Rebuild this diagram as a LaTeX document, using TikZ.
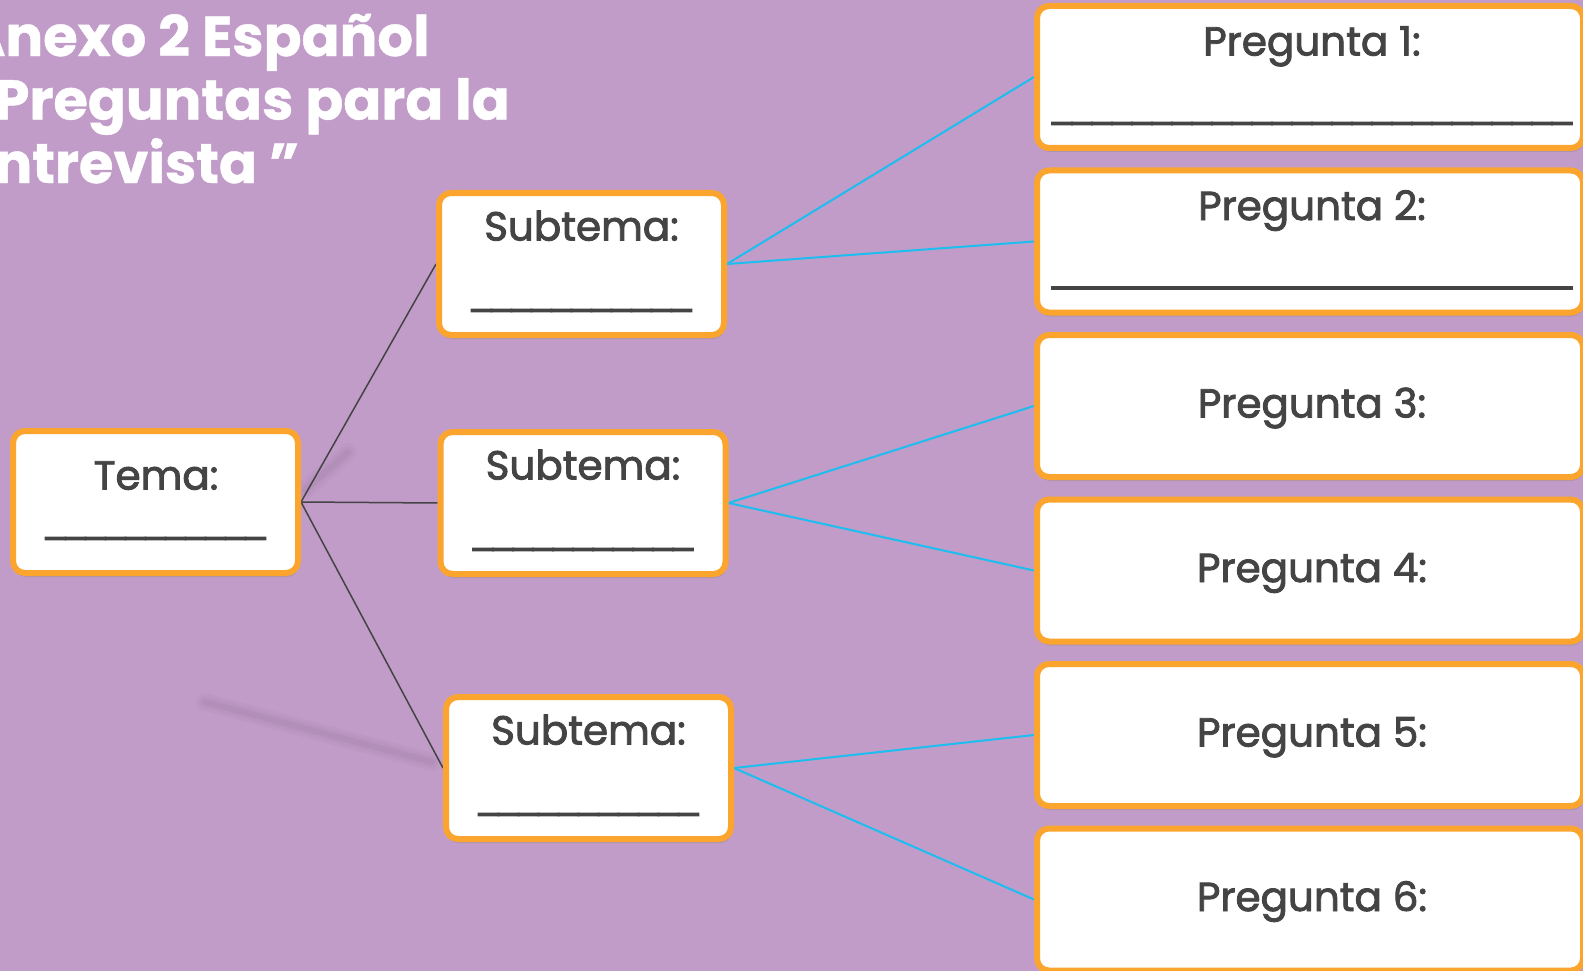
\documentclass[tikz,border=0pt]{standalone}
\usepackage{fontspec}
\setmainfont{Poppins}[BoldFeatures={FakeBold=0.8}]
\newfontfamily\cajafont{Poppins}[FakeBold=2.2]
\newfontfamily\rayafont{DejaVu Sans}[FakeBold=2.5]
\usepackage{xcolor}
\usepackage{tikz}
\usetikzlibrary{positioning, calc, shadows}

\definecolor{lavanda}{RGB}{193,156,200}
\definecolor{naranja}{RGB}{251,165,46}
\definecolor{celeste}{RGB}{28,190,240}
\definecolor{grisoscuro}{RGB}{68,68,68}

\pgfdeclarelayer{fondo}
\pgfdeclarelayer{lineas}
\pgfsetlayers{fondo,lineas,main}

\tikzset{
    caja/.style={draw=naranja, line width=6pt, fill=white, rounded corners=12pt,
        minimum width=285pt, minimum height=142pt, inner sep=0pt,
        drop shadow={opacity=0.3, shadow xshift=1pt, shadow yshift=-4pt}},
    texto/.style={font=\cajafont\fontsize{40.5}{42}\selectfont, text=grisoscuro, anchor=base, inner sep=0pt},
    raya/.style={font=\rayafont\fontsize{40}{42}\selectfont, text=grisoscuro, anchor=base, inner sep=0pt},
    titulo/.style={font=\bfseries\fontsize{56}{63.5}\selectfont, text=white, align=left, inner sep=0pt},
    rama/.style={draw=grisoscuro, line width=1.5pt},
    enlace/.style={draw=celeste, line width=2pt}
}

\begin{document}
\begin{tikzpicture}[x=1pt, y=-1pt]
    % Fondo
    \useasboundingbox (0,0) rectangle (1583,971);
    \begin{pgfonlayer}{fondo}
        \fill[lavanda] (0,0) rectangle (1583,971);
    \end{pgfonlayer}
    \clip (0,0) rectangle (1583,971);

    % Titulo (la base es la de la ultima linea)
    \node[titulo, anchor=base west] (titulo) at (-36,183) {Anexo 2 Español\\“Preguntas para la\\Entrevista ”};

    % Tema
    \node[caja] (tema) at (155.5,502) {};
    \node[texto] (tema-t) at (156,489.5) {Tema:};
    \node[raya] (tema-l) at (155.5,530.5) {\_\_\_\_\_\_\_\_\_\_\_};

    % Subtemas
    \foreach \s/\x/\y in {1/581.5/264, 2/583/503, 3/588.5/768} {
        \node[caja] (sub\s) at (\x,\y) {};
        \node[texto] (sub\s-t) at (\x,{\y-23.5}) {Subtema:};
        \node[raya] (sub\s-l) at (\x,{\y+38.5}) {\_\_\_\_\_\_\_\_\_\_\_};
    }

    % Preguntas
    \foreach \n/\y in {1/77, 2/241.5, 3/406, 4/570.5, 5/735, 6/899.5} {
        \node[caja, minimum width=546pt] (p\n) at (1310,\y) {};
    }
    \foreach \n in {1,2} {
        \node[texto] (p\n-t) at ($(p\n)+(2,-21.5)$) {Pregunta \n:};
        \node[raya] (p\n-l) at ($(p\n)+(2,38.5)$) {\_\_\_\_\_\_\_\_\_\_\_\_\_\_\_\_\_\_\_\_\_\_\_\_\_\_};
    }
    \foreach \n in {3,4,5,6} {
        \node[texto] (p\n-t) at ($(p\n)+(2,11.5)$) {Pregunta \n:};
    }

    % Conectores
    \begin{pgfonlayer}{lineas}
        \foreach \w/\o in {18/0.02, 12/0.025, 6/0.03} {
            \draw[line width=\w pt, black, opacity=\o, line cap=round] (205,702) -- (432,762);
            \draw[line width=\w pt, black, opacity=\o, line cap=round] (305,490) -- (348,452);
        }
        \foreach \s in {1,2,3} {
            \draw[rama] (tema.east) -- (sub\s.west);
        }
        \foreach \s/\a/\b in {1/1/2, 2/3/4, 3/5/6} {
            \draw[enlace] (sub\s.east) -- (p\a.west);
            \draw[enlace] (sub\s.east) -- (p\b.west);
        }
    \end{pgfonlayer}
\end{tikzpicture}
\end{document}
